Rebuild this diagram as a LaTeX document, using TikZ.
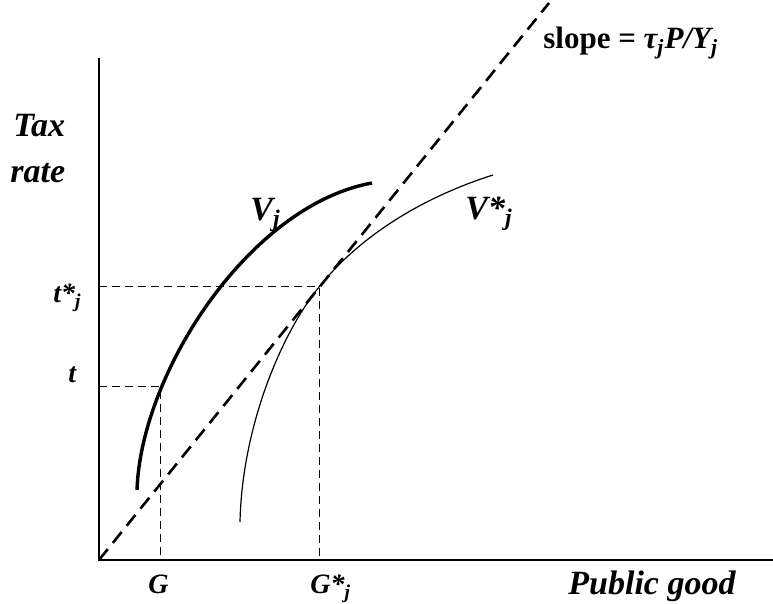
\documentclass[tikz,border=0pt]{standalone}
\usepackage{fontspec}
\setmainfont{Liberation Serif}
\usetikzlibrary{positioning}

\begin{document}
\begin{tikzpicture}[
  x=0.5pt,y=-0.5pt,
  axis/.style={line width=1pt},
  guide/.style={line width=0.5pt,dash pattern=on 4pt off 2.5pt},
  budget/.style={line width=1.3pt,dash pattern=on 7pt off 4pt},
  lbl/.style={inner sep=0pt,font=\fontsize{14}{16}\selectfont\bfseries\itshape},
  big/.style={inner sep=0pt,font=\fontsize{17}{20}\selectfont\bfseries\itshape}
]
\useasboundingbox (0,0) rectangle (773,604);
% axes
\coordinate (O)    at (99,560);
\coordinate (ytop) at (99,58);
\coordinate (xend) at (773,560);
\draw[axis] (ytop) -- (O) -- (xend);

% equilibrium points
\coordinate (E) at (319,287);
\coordinate (A) at (160,387);
\draw[guide] (O |- E) -- (E) -- (O -| E);
\draw[guide] (O |- A) -- (A) -- (O -| A);

% budget line
\coordinate (slopeend) at (549,3);
\draw[budget] (O) -- (slopeend);

% indifference curves
\draw[line width=1.7pt] (137,490) .. controls (141,372) and (250,205) .. (372,183);
\draw[line width=0.6pt] (240,522) .. controls (242,430) and (279,337) .. (E)
  .. controls (364,231) and (430,195) .. (493,175);

% labels
\node[big,anchor=base west] (tax)  at (13,137) {Tax};
\node[big,anchor=base west] (rate) at (10,183) {rate};
\node[big,anchor=base west] (pg)   at (568,595) {Public good};
\node[big,anchor=base west] (vj)   at (250,221) {V\textsubscript{j}};
\node[big,anchor=base west] (vsj)  at (465,220) {V*\textsubscript{j}};
\node[lbl,anchor=base west] (tsj)  at (53,303) {t*\textsubscript{j}};
\node[lbl,anchor=base west] (tl)   at (68,383) {t};
\node[lbl,anchor=base west] (gl)   at (148,594) {G};
\node[lbl,anchor=base west] (gsj)  at (310,594) {G*\textsubscript{j}};
\node[inner sep=0pt,anchor=base west,font=\fontsize{15.5}{18}\selectfont\bfseries]
  (slope) at (543,49) {slope = \textit{τ\textsubscript{j}P/Y\textsubscript{j}}};
\end{tikzpicture}
\end{document}
